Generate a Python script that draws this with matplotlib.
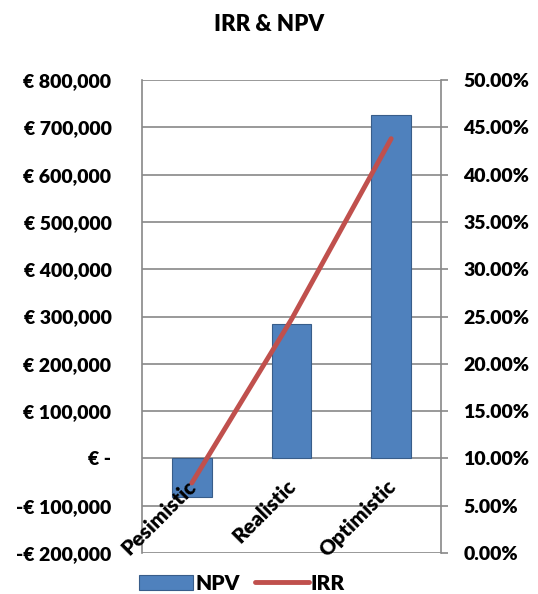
import matplotlib.pyplot as plt
import numpy as np

plt.rcParams['font.family'] = ['Lato', 'DejaVu Sans']
plt.rcParams['font.weight'] = 'heavy'

# data
scenarios = ['Pesimistic', 'Realistic', 'Optimistic']
npv = [-82000, 284000, 726000]
irr = [0.074, 0.247, 0.438]

npv_ticks = np.arange(-200000, 800001, 100000)
npv_labels = ['-€ 200,000', '-€ 100,000', '€ -', '€ 100,000', '€ 200,000',
              '€ 300,000', '€ 400,000', '€ 500,000', '€ 600,000',
              '€ 700,000', '€ 800,000']
irr_ticks = np.arange(0, 0.5001, 0.05)

grey = '#888888'

fig = plt.figure(figsize=(5.38, 5.94), dpi=100)
ax = fig.add_axes([142 / 538, 1 - 553 / 594, 299 / 538, 473 / 594])
x = np.arange(len(scenarios))

ax.bar(x, npv, width=0.4, color='#4F81BD', edgecolor='#385D8A', linewidth=0.8, zorder=3, label='NPV')
ax.set_xlim(-0.5, 2.5)
ax.set_ylim(-200000, 800000)
ax.set_yticks(npv_ticks)
ax.set_yticklabels(npv_labels, fontsize=14, fontweight='heavy')
ax.grid(axis='y', color=grey, linewidth=1.2, zorder=0)
ax.set_xticks([])
ax.tick_params(axis='y', length=0, pad=22)
for s in ['top', 'bottom']:
    ax.spines[s].set_visible(False)
for s in ['left', 'right']:
    ax.spines[s].set_color(grey)
    ax.spines[s].set_linewidth(1.2)

for i, name in enumerate(scenarios):
    ax.text(i + 0.08, -38000, name, rotation=45, ha='right', va='top',
            fontsize=15, fontweight='heavy', zorder=5)

ax2 = ax.twinx()
ax2.plot(x, irr, color='#C0504D', linewidth=3.5, zorder=4, label='IRR', solid_capstyle='round')
ax2.set_ylim(0, 0.5)
ax2.set_yticks(irr_ticks)
ax2.set_yticklabels(['%.2f%%' % (t * 100) for t in irr_ticks], fontsize=14, fontweight='heavy')
ax2.tick_params(axis='y', length=5, width=1.2, color=grey, pad=11)
for s in ['top', 'bottom', 'left', 'right']:
    ax2.spines[s].set_visible(False)

fig.suptitle('IRR & NPV', y=0.977, fontsize=16, fontweight='heavy')

h1, l1 = ax.get_legend_handles_labels()
h2, l2 = ax2.get_legend_handles_labels()
fig.legend(h1 + h2, l1 + l2, loc='center', bbox_to_anchor=(0.45, 1 - 583 / 594), ncol=2,
           frameon=False, prop={'size': 15, 'weight': 'heavy'}, borderaxespad=0, borderpad=0,
           handlelength=2.6, handletextpad=0.1, columnspacing=0.7)

fig.savefig('out.png', dpi=100)
